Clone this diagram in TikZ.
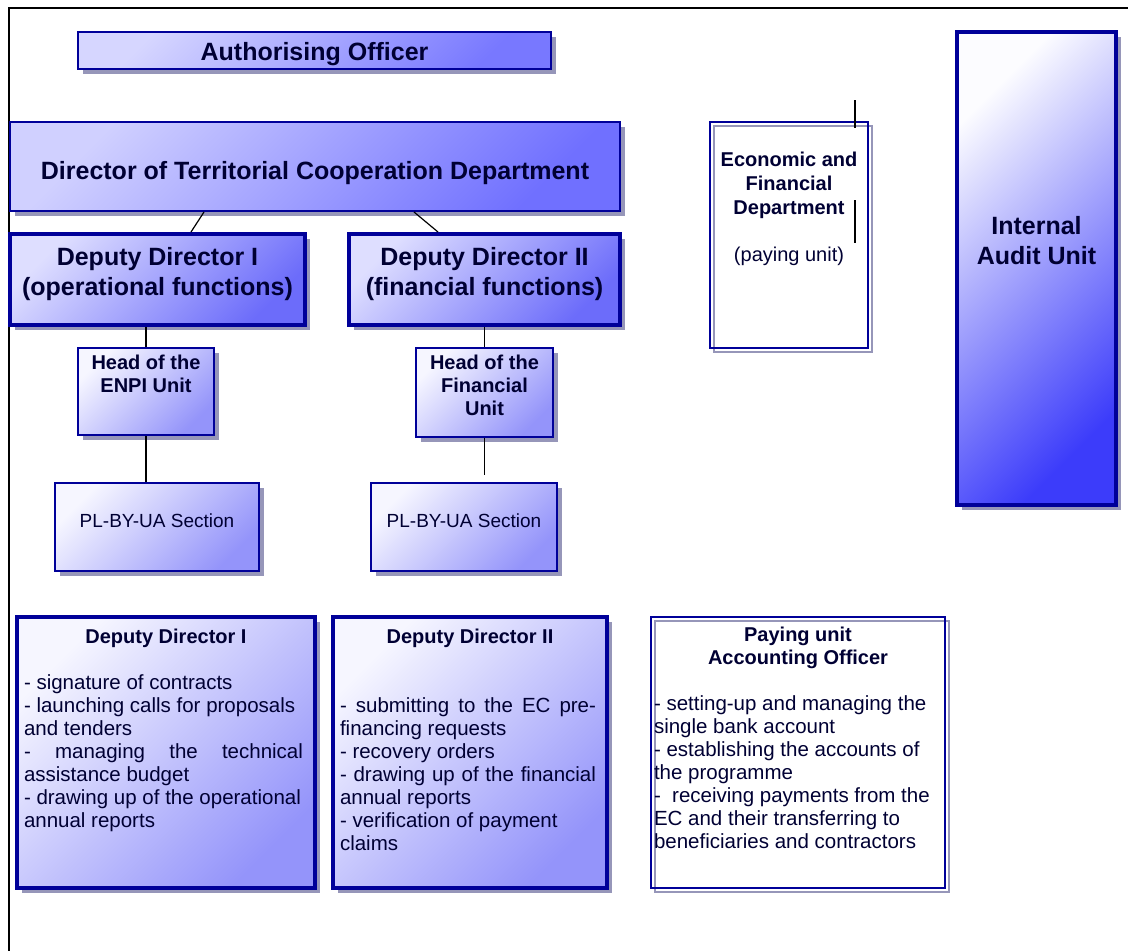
\documentclass[tikz,border=0pt]{standalone}
\usepackage{fontspec}
\setmainfont{Liberation Sans}
\usetikzlibrary{shadows,calc}
\definecolor{frameblue}{RGB}{0,0,153}
\definecolor{inkblue}{RGB}{0,0,51}
\definecolor{shadowgrey}{RGB}{150,150,185}
\definecolor{authtop}{RGB}{214,214,255}
\definecolor{authbottom}{RGB}{120,120,255}
\definecolor{dirtop}{RGB}{208,208,255}
\definecolor{dirbottom}{RGB}{112,112,255}
\definecolor{deptop}{RGB}{222,222,255}
\definecolor{depbottom}{RGB}{108,108,250}
\definecolor{lilactop}{RGB}{246,246,255}
\definecolor{lilacbottom}{RGB}{148,148,250}
\definecolor{audittop}{RGB}{252,252,255}
\definecolor{auditbottom}{RGB}{60,60,250}
\begin{document}
\begin{tikzpicture}[x=1pt, y=-1pt,
    unitbox/.style={draw=frameblue, line width=2pt, text=inkblue, inner sep=0pt,
      drop shadow={shadow xshift=5pt, shadow yshift=-5pt, fill=shadowgrey, opacity=1}},
    deputybox/.style={unitbox, line width=4pt},
    openbox/.style={draw=frameblue, line width=2pt, text=inkblue, inner sep=0pt,
      drop shadow={shadow xshift=4pt, shadow yshift=-4pt, fill=none, draw=shadowgrey, line width=2pt, opacity=1}},
    shade from/.style 2 args={top color=#1, bottom color=#2, shading angle=45},
    bigfont/.style={font=\bfseries\fontsize{25}{30}\selectfont},
    headfont/.style={font=\bfseries\fontsize{20}{23}\selectfont},
    listfont/.style={font=\fontsize{20.5}{23}\selectfont},
    link/.style={line width=1.2pt}]
    \useasboundingbox (0,0) rectangle (1128,951);
    \draw[line width=2.5pt] (9,951) -- (9,8) -- (1128,8);

    % management line
    \node[unitbox, shade from={authtop}{authbottom}, bigfont, text height=24pt, text depth=5pt, minimum width=473pt, minimum height=37pt] (auth) at (314.5,50.5) {Authorising Officer};
    \node[unitbox, shade from={dirtop}{dirbottom}, bigfont, text height=31pt, text depth=5pt, minimum width=610pt, minimum height=89pt] (director) at (315,166.5) {Director of Territorial Cooperation Department};
    \node[deputybox, shade from={deptop}{depbottom}, bigfont] (dd1) at (157.5,279.5) {\parbox[c][91pt][t]{295pt}{\centering\vspace*{13pt}Deputy Director I\\(operational functions)}};
    \node[deputybox, shade from={deptop}{depbottom}, bigfont] (dd2) at (484.5,279.5) {\parbox[c][91pt][t]{271pt}{\centering\vspace*{13pt}Deputy Director II\\(financial functions)}};
    \node[unitbox, shade from={lilactop}{lilacbottom}, headfont] (head1) at (146,391.5) {\parbox[c][87pt][t]{136pt}{\centering\vspace*{7pt}Head of the\\ENPI Unit}};
    \node[unitbox, shade from={lilactop}{lilacbottom}, headfont] (head2) at (484.5,392.5) {\parbox[c][89pt][t]{137pt}{\centering\vspace*{7pt}Head of the\\Financial\\Unit}};
    \node[unitbox, shade from={lilactop}{lilacbottom}, font=\fontsize{19}{23}\selectfont, text height=13pt, text depth=13pt, minimum width=204pt, minimum height=88pt] (sec1) at (157,527) {PL-BY-UA Section};
    \node[unitbox, shade from={lilactop}{lilacbottom}, font=\fontsize{19}{23}\selectfont, text height=13pt, text depth=13pt, minimum width=186pt, minimum height=88pt] (sec2) at (464,527) {PL-BY-UA Section};

    % side units
    \node[openbox, font=\fontsize{20}{24}\selectfont] (econ) at (789,235) {\parbox[c][226pt][t]{158pt}{\centering\vspace*{30pt}{\bfseries Economic and\\Financial\\Department\par}\vspace{23pt}(paying unit)}};
    \node[deputybox, shade from={audittop}{auditbottom}, bigfont] (audit) at (1036.5,268.5) {\parbox[c][473pt][t]{159pt}{\centering\vspace*{184pt}Internal\\Audit Unit}};

    % tasks
    \node[deputybox, shade from={lilactop}{lilacbottom}, listfont, inner xsep=7pt] (resp1) at (166,752.5) {\parbox[c][271pt][t]{284pt}{\vspace*{12pt}%
      {\centering\bfseries\fontsize{20}{23}\selectfont Deputy Director I\par}\vspace{23pt}%
      \raggedright
      - signature of contracts\\
      - launching calls for proposals\\
      and tenders\\
      \makebox[279pt][s]{- managing the technical}\\
      assistance budget\\
      - drawing up of the operational\\
      annual reports}};
    \node[deputybox, shade from={lilactop}{lilacbottom}, listfont, inner xsep=7pt] (resp2) at (470,752.5) {\parbox[c][271pt][t]{260pt}{\vspace*{12pt}%
      {\centering\bfseries\fontsize{20}{23}\selectfont Deputy Director II\par}\vspace{46pt}%
      \raggedright
      \makebox[256pt][s]{- submitting to the EC pre-}\\
      financing requests\\
      - recovery orders\\
      \makebox[256pt][s]{- drawing up of the financial}\\
      annual reports\\
      - verification of payment\\
      claims}};
    \node[openbox, listfont, inner xsep=3pt] (pay) at (798,752.5) {\parbox[c][271pt][t]{288pt}{\vspace*{10pt}%
      {\centering\bfseries\fontsize{20}{23}\selectfont Paying unit\\Accounting Officer\par}\vspace{23pt}%
      \raggedright
      - setting-up and managing the\\
      single bank account\\
      - establishing the accounts of\\
      the programme\\
      -~ receiving payments from the\\
      EC and their transferring to\\
      beneficiaries and contractors}};

    \draw[link] ([xshift=195pt]director.south west) -- ([xshift=183pt]dd1.north west);
    \draw[link] ([xshift=405pt]director.south west) -- ([xshift=91pt]dd2.north west);
    \draw[link] (head1.north |- dd1.south) -- (head1.north);
    \draw[link] (dd2.south) -- (head2.north);
    \draw[link] (head1.south) -- (head1.south |- sec1.north);
    \coordinate (sec2gap) at ($(head2.south |- sec2.north)+(0,-7)$);
    \draw[link] (head2.south) -- (sec2gap);

    \coordinate (econmark1) at (855,100);
    \coordinate (econmark2) at (855,128);
    \coordinate (econmark3) at (855,200);
    \coordinate (econmark4) at (855,243);
    \draw[link] (econmark1) -- (econmark2);
    \draw[link] (econmark3) -- (econmark4);
\end{tikzpicture}
\end{document}
